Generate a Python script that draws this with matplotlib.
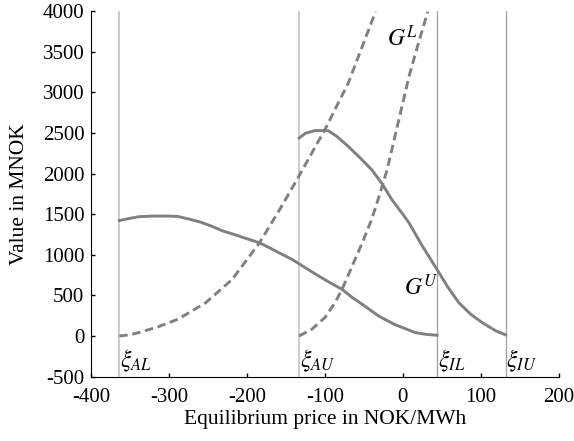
import matplotlib
matplotlib.use("Agg")
import matplotlib.pyplot as plt

plt.rcParams['font.family'] = ['Liberation Serif', 'DejaVu Serif']
plt.rcParams['mathtext.fontset'] = 'stix'
plt.rcParams['axes.unicode_minus'] = False

# threshold prices (NOK/MWh)
xi_names = [r'$\xi_{AL}$', r'$\xi_{AU}$', r'$\xi_{IL}$', r'$\xi_{IU}$']
xi_values = [-364, -133, 44, 132]

# solid curve starting at xi_AL
solid1_x = [-364, -352, -339, -320, -300, -289, -275, -260, -245, -231, -215, -200, -184, -170,
            -158, -142, -132, -110, -95, -78, -65, -55, -42, -31, -20, -10, 0, 16, 30, 44]
solid1_y = [1421, 1445, 1468, 1476, 1476, 1472, 1440, 1403, 1350, 1292, 1245, 1197, 1147, 1080,
            1020, 942, 881, 750, 665, 574, 475, 410, 322, 246, 190, 140, 103, 42, 20, 9]

# solid curve starting at xi_AU (G^U)
solid2_x = [-133, -125, -113, -96, -85, -70, -55, -40, -27, -14, 0, 8, 25, 44, 58, 72, 87, 102, 120, 132]
solid2_y = [2437, 2495, 2528, 2528, 2460, 2334, 2195, 2048, 1880, 1679, 1500, 1393, 1110, 819, 600, 410, 270, 165, 60, 15]

# dashed curve starting at xi_AL
dash1_x = [-364, -350, -339, -315, -289, -253, -219, -184, -158, -135, -100, -70, -35]
dash1_y = [0, 15, 42, 110, 205, 410, 697, 1147, 1557, 1940, 2540, 3113, 3990]

# dashed curve starting at xi_AU (G^L)
dash2_x = [-133, -117, -100, -87, -78, -65, -52, -40, -31, -20, -9, 8, 20, 32]
dash2_y = [0, 82, 226, 410, 574, 860, 1147, 1433, 1700, 2050, 2499, 3194, 3600, 3990]

xticks = [-400, -300, -200, -100, 0, 100, 200]
yticks = [-500, 0, 500, 1000, 1500, 2000, 2500, 3000, 3500, 4000]

fig = plt.figure(figsize=(5.74, 4.41), dpi=100)
ax = fig.add_axes([0.159, 0.146, 0.814, 0.829])

line_colors = ['#c8c8c8', '#c8c8c8', '#a0a0a0', '#a0a0a0']
line_widths = [1.3, 1.3, 0.9, 0.9]
for name, v, c, w in zip(xi_names, xi_values, line_colors, line_widths):
    ax.plot([v, v], [-500, 4000], color=c, lw=w, zorder=1)
    ax.text(v + 1, -310, name, fontsize=17, ha='left', va='center')

gray = '#808080'
ax.plot(solid1_x, solid1_y, color=gray, lw=2.1)
ax.plot(solid2_x, solid2_y, color=gray, lw=2.1)
ax.plot(dash1_x, dash1_y, color=gray, lw=2.1, dashes=(2.9, 1.6))
ax.plot(dash2_x, dash2_y, color=gray, lw=2.1, dashes=(2.9, 1.6))

ax.text(-1, 3660, r'$G^L$', fontsize=17, ha='center', va='center')
ax.text(23, 600, r'$G^U$', fontsize=17, ha='center', va='center')

ax.set_xlim(-400, 200)
ax.set_ylim(-500, 4000)
ax.set_xticks(xticks)
ax.set_yticks(yticks)
ax.tick_params(direction='in', length=3, width=1, labelsize=15)
ax.tick_params(axis='x', pad=8)
ax.tick_params(axis='y', pad=5)
ax.spines['top'].set_visible(False)
ax.spines['right'].set_visible(False)
ax.set_xlabel('Equilibrium price in NOK/MWh', fontsize=15.5, labelpad=2)
ax.set_ylabel('Value in MNOK', fontsize=15.5, labelpad=10)

fig.savefig('out.png', dpi=100)
